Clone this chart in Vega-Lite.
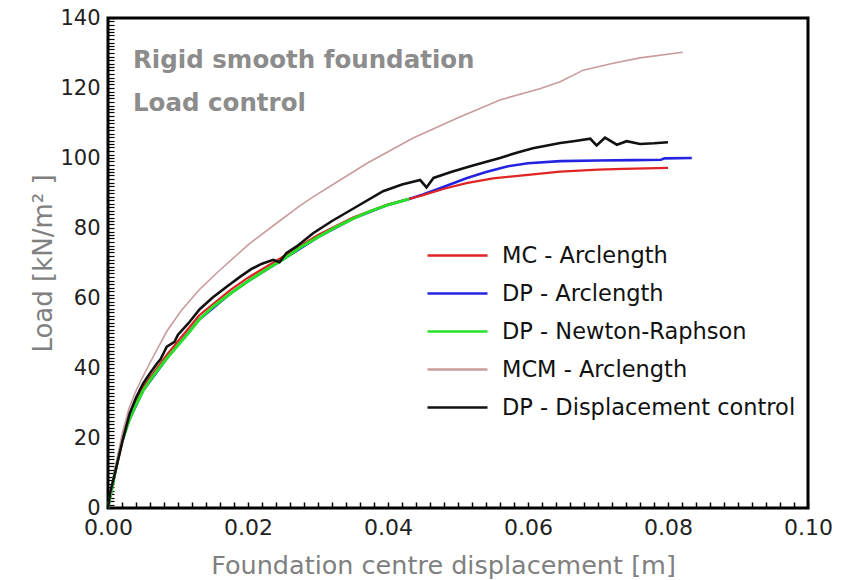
{
  "$schema": "https://vega.github.io/schema/vega-lite/v6.json",
  "width": 700,
  "height": 490,
  "autosize": "none",
  "padding": {"left": 108, "top": 18, "right": 42, "bottom": 72},
  "background": "white",
  "config": {
    "view": {"stroke": "black", "strokeWidth": 3},
    "font": "DejaVu Sans"
  },
  "title": {
    "text": "Rigid smooth foundation",
    "subtitle": "Load control",
    "anchor": "start",
    "frame": "group",
    "offset": -109,
    "dx": 25,
    "font": "DejaVu Sans",
    "fontSize": 24.5,
    "fontWeight": "bold",
    "color": "#8c8c8c",
    "subtitleFont": "DejaVu Sans",
    "subtitleFontSize": 24.5,
    "subtitleFontWeight": "bold",
    "subtitleColor": "#8c8c8c",
    "subtitlePadding": 18
  },
  "datasets": {
    "curves": [
      {"s": "DP - Newton-Raphson", "x": 0, "y": 0},
      {"s": "DP - Newton-Raphson", "x": 0.0005, "y": 5},
      {"s": "DP - Newton-Raphson", "x": 0.001, "y": 10},
      {"s": "DP - Newton-Raphson", "x": 0.0015, "y": 15},
      {"s": "DP - Newton-Raphson", "x": 0.002, "y": 19},
      {"s": "DP - Newton-Raphson", "x": 0.003, "y": 25},
      {"s": "DP - Newton-Raphson", "x": 0.004, "y": 29.5},
      {"s": "DP - Newton-Raphson", "x": 0.005, "y": 33.5},
      {"s": "DP - Newton-Raphson", "x": 0.006, "y": 36.5},
      {"s": "DP - Newton-Raphson", "x": 0.007, "y": 39.2},
      {"s": "DP - Newton-Raphson", "x": 0.0085, "y": 43},
      {"s": "DP - Newton-Raphson", "x": 0.01, "y": 46.5},
      {"s": "DP - Newton-Raphson", "x": 0.0115, "y": 50},
      {"s": "DP - Newton-Raphson", "x": 0.013, "y": 53.8},
      {"s": "DP - Newton-Raphson", "x": 0.015, "y": 57.5},
      {"s": "DP - Newton-Raphson", "x": 0.0175, "y": 61.3},
      {"s": "DP - Newton-Raphson", "x": 0.02, "y": 64.8},
      {"s": "DP - Newton-Raphson", "x": 0.0225, "y": 68},
      {"s": "DP - Newton-Raphson", "x": 0.025, "y": 71},
      {"s": "DP - Newton-Raphson", "x": 0.0275, "y": 74.5},
      {"s": "DP - Newton-Raphson", "x": 0.03, "y": 77.4},
      {"s": "DP - Newton-Raphson", "x": 0.0325, "y": 80.2},
      {"s": "DP - Newton-Raphson", "x": 0.035, "y": 82.7},
      {"s": "DP - Newton-Raphson", "x": 0.0375, "y": 84.8},
      {"s": "DP - Newton-Raphson", "x": 0.04, "y": 86.6},
      {"s": "DP - Newton-Raphson", "x": 0.043, "y": 88.3},

      {"s": "DP - Arclength", "x": 0, "y": 0},
      {"s": "DP - Arclength", "x": 0.001, "y": 10},
      {"s": "DP - Arclength", "x": 0.002, "y": 19},
      {"s": "DP - Arclength", "x": 0.003, "y": 25},
      {"s": "DP - Arclength", "x": 0.005, "y": 33.5},
      {"s": "DP - Arclength", "x": 0.0085, "y": 43},
      {"s": "DP - Arclength", "x": 0.013, "y": 53.8},
      {"s": "DP - Arclength", "x": 0.0175, "y": 61.3},
      {"s": "DP - Arclength", "x": 0.02, "y": 64.8},
      {"s": "DP - Arclength", "x": 0.025, "y": 71},
      {"s": "DP - Arclength", "x": 0.03, "y": 77.4},
      {"s": "DP - Arclength", "x": 0.035, "y": 82.7},
      {"s": "DP - Arclength", "x": 0.04, "y": 86.6},
      {"s": "DP - Arclength", "x": 0.043, "y": 88.3},
      {"s": "DP - Arclength", "x": 0.045, "y": 89.6},
      {"s": "DP - Arclength", "x": 0.048, "y": 91.8},
      {"s": "DP - Arclength", "x": 0.0512, "y": 94.2},
      {"s": "DP - Arclength", "x": 0.054, "y": 96},
      {"s": "DP - Arclength", "x": 0.057, "y": 97.6},
      {"s": "DP - Arclength", "x": 0.06, "y": 98.5},
      {"s": "DP - Arclength", "x": 0.0646, "y": 99.1},
      {"s": "DP - Arclength", "x": 0.07, "y": 99.3},
      {"s": "DP - Arclength", "x": 0.075, "y": 99.4},
      {"s": "DP - Arclength", "x": 0.079, "y": 99.5},
      {"s": "DP - Arclength", "x": 0.0795, "y": 99.9},
      {"s": "DP - Arclength", "x": 0.0834, "y": 100},

      {"s": "MC - Arclength", "x": 0, "y": 0},
      {"s": "MC - Arclength", "x": 0.001, "y": 10.5},
      {"s": "MC - Arclength", "x": 0.002, "y": 19.5},
      {"s": "MC - Arclength", "x": 0.003, "y": 26},
      {"s": "MC - Arclength", "x": 0.005, "y": 34.5},
      {"s": "MC - Arclength", "x": 0.0085, "y": 44},
      {"s": "MC - Arclength", "x": 0.013, "y": 55},
      {"s": "MC - Arclength", "x": 0.0175, "y": 62.3},
      {"s": "MC - Arclength", "x": 0.02, "y": 65.8},
      {"s": "MC - Arclength", "x": 0.025, "y": 71.8},
      {"s": "MC - Arclength", "x": 0.03, "y": 78},
      {"s": "MC - Arclength", "x": 0.035, "y": 83},
      {"s": "MC - Arclength", "x": 0.04, "y": 86.8},
      {"s": "MC - Arclength", "x": 0.043, "y": 88.3},
      {"s": "MC - Arclength", "x": 0.045, "y": 89.4},
      {"s": "MC - Arclength", "x": 0.048, "y": 91.2},
      {"s": "MC - Arclength", "x": 0.0512, "y": 92.8},
      {"s": "MC - Arclength", "x": 0.055, "y": 94.2},
      {"s": "MC - Arclength", "x": 0.06, "y": 95.2},
      {"s": "MC - Arclength", "x": 0.0646, "y": 96.1},
      {"s": "MC - Arclength", "x": 0.07, "y": 96.7},
      {"s": "MC - Arclength", "x": 0.0736, "y": 96.9},
      {"s": "MC - Arclength", "x": 0.08, "y": 97.2},

      {"s": "MCM - Arclength", "x": 0, "y": 0},
      {"s": "MCM - Arclength", "x": 0.001, "y": 11},
      {"s": "MCM - Arclength", "x": 0.002, "y": 21},
      {"s": "MCM - Arclength", "x": 0.003, "y": 28.5},
      {"s": "MCM - Arclength", "x": 0.004, "y": 33.5},
      {"s": "MCM - Arclength", "x": 0.0046, "y": 36},
      {"s": "MCM - Arclength", "x": 0.006, "y": 41.5},
      {"s": "MCM - Arclength", "x": 0.0084, "y": 50.5},
      {"s": "MCM - Arclength", "x": 0.0105, "y": 56.5},
      {"s": "MCM - Arclength", "x": 0.0131, "y": 62.5},
      {"s": "MCM - Arclength", "x": 0.016, "y": 68},
      {"s": "MCM - Arclength", "x": 0.0203, "y": 75.7},
      {"s": "MCM - Arclength", "x": 0.0245, "y": 82},
      {"s": "MCM - Arclength", "x": 0.0274, "y": 86.3},
      {"s": "MCM - Arclength", "x": 0.0293, "y": 88.9},
      {"s": "MCM - Arclength", "x": 0.033, "y": 93.5},
      {"s": "MCM - Arclength", "x": 0.037, "y": 98.5},
      {"s": "MCM - Arclength", "x": 0.0436, "y": 105.7},
      {"s": "MCM - Arclength", "x": 0.05, "y": 111.5},
      {"s": "MCM - Arclength", "x": 0.056, "y": 116.6},
      {"s": "MCM - Arclength", "x": 0.0617, "y": 119.8},
      {"s": "MCM - Arclength", "x": 0.0646, "y": 121.8},
      {"s": "MCM - Arclength", "x": 0.0679, "y": 125.1},
      {"s": "MCM - Arclength", "x": 0.072, "y": 127},
      {"s": "MCM - Arclength", "x": 0.076, "y": 128.6},
      {"s": "MCM - Arclength", "x": 0.0821, "y": 130.2},

      {"s": "DP - Displacement control", "x": 0, "y": 0},
      {"s": "DP - Displacement control", "x": 0.0003, "y": 4.3},
      {"s": "DP - Displacement control", "x": 0.001, "y": 10},
      {"s": "DP - Displacement control", "x": 0.0021, "y": 19.4},
      {"s": "DP - Displacement control", "x": 0.0031, "y": 27},
      {"s": "DP - Displacement control", "x": 0.004, "y": 31.5},
      {"s": "DP - Displacement control", "x": 0.005, "y": 35.5},
      {"s": "DP - Displacement control", "x": 0.006, "y": 38.5},
      {"s": "DP - Displacement control", "x": 0.007, "y": 41.3},
      {"s": "DP - Displacement control", "x": 0.0075, "y": 42.5},
      {"s": "DP - Displacement control", "x": 0.008, "y": 44.5},
      {"s": "DP - Displacement control", "x": 0.0084, "y": 46.1},
      {"s": "DP - Displacement control", "x": 0.0095, "y": 47.5},
      {"s": "DP - Displacement control", "x": 0.01, "y": 49.5},
      {"s": "DP - Displacement control", "x": 0.0115, "y": 52.8},
      {"s": "DP - Displacement control", "x": 0.0131, "y": 56.8},
      {"s": "DP - Displacement control", "x": 0.015, "y": 60.2},
      {"s": "DP - Displacement control", "x": 0.017, "y": 63.3},
      {"s": "DP - Displacement control", "x": 0.0189, "y": 66.1},
      {"s": "DP - Displacement control", "x": 0.0205, "y": 68.3},
      {"s": "DP - Displacement control", "x": 0.022, "y": 69.8},
      {"s": "DP - Displacement control", "x": 0.0236, "y": 70.9},
      {"s": "DP - Displacement control", "x": 0.0245, "y": 70.2},
      {"s": "DP - Displacement control", "x": 0.0255, "y": 72.9},
      {"s": "DP - Displacement control", "x": 0.027, "y": 74.8},
      {"s": "DP - Displacement control", "x": 0.0293, "y": 78.5},
      {"s": "DP - Displacement control", "x": 0.032, "y": 82},
      {"s": "DP - Displacement control", "x": 0.035, "y": 85.5},
      {"s": "DP - Displacement control", "x": 0.0393, "y": 90.5},
      {"s": "DP - Displacement control", "x": 0.042, "y": 92.4},
      {"s": "DP - Displacement control", "x": 0.0446, "y": 93.7},
      {"s": "DP - Displacement control", "x": 0.0455, "y": 91.6},
      {"s": "DP - Displacement control", "x": 0.0465, "y": 94.3},
      {"s": "DP - Displacement control", "x": 0.049, "y": 96},
      {"s": "DP - Displacement control", "x": 0.052, "y": 97.8},
      {"s": "DP - Displacement control", "x": 0.056, "y": 100},
      {"s": "DP - Displacement control", "x": 0.0585, "y": 101.6},
      {"s": "DP - Displacement control", "x": 0.0607, "y": 102.8},
      {"s": "DP - Displacement control", "x": 0.0646, "y": 104.3},
      {"s": "DP - Displacement control", "x": 0.0665, "y": 104.8},
      {"s": "DP - Displacement control", "x": 0.0689, "y": 105.5},
      {"s": "DP - Displacement control", "x": 0.0698, "y": 103.6},
      {"s": "DP - Displacement control", "x": 0.071, "y": 105.8},
      {"s": "DP - Displacement control", "x": 0.0727, "y": 103.8},
      {"s": "DP - Displacement control", "x": 0.0741, "y": 104.8},
      {"s": "DP - Displacement control", "x": 0.076, "y": 104},
      {"s": "DP - Displacement control", "x": 0.078, "y": 104.2},
      {"s": "DP - Displacement control", "x": 0.08, "y": 104.5}
    ]
  },
  "data": {"name": "curves"},
  "encoding": {
    "x": {
      "field": "x", "type": "quantitative",
      "scale": {"domain": [0, 0.1], "nice": false, "zero": false},
      "axis": {
        "orient": "bottom",
        "offset": -6,
        "values": [0,0.002,0.004,0.006,0.008,0.01,0.012,0.014,0.016,0.018,0.02,0.022,0.024,0.026,0.028,0.03,0.032,0.034,0.036,0.038,0.04,0.042,0.044,0.046,0.048,0.05,0.052,0.054,0.056,0.058,0.06,0.062,0.064,0.066,0.068,0.07,0.072,0.074,0.076,0.078,0.08,0.082,0.084,0.086,0.088,0.09,0.092,0.094,0.096,0.098,0.1],
        "labelExpr": "abs(datum.value*50 - round(datum.value*50)) < 0.001 ? format(datum.value, '.2f') : ''",
        "ticks": true, "tickSize": 6, "tickColor": "#000000", "tickWidth": 1.5, "tickOpacity": 1,
        "domain": false,
        "grid": false,
        "labelFont": "DejaVu Sans", "labelFontSize": 22, "labelColor": "#222",
        "labelPadding": 9, "labelFlush": false, "labelOverlap": false,
        "title": "Foundation centre displacement [m]",
        "titleFont": "DejaVu Sans", "titleFontSize": 25.5, "titleFontWeight": "normal", "titleColor": "#808080",
        "titlePadding": 15,
        "titleX": 335
      }
    },
    "y": {
      "field": "y", "type": "quantitative",
      "scale": {"domain": [0, 140], "nice": false},
      "axis": {
        "orient": "left",
        "offset": -6,
        "values": [0,1,2,3,4,5,6,7,8,9,10,11,12,13,14,15,16,17,18,19,20,21,22,23,24,25,26,27,28,29,30,31,32,33,34,35,36,37,38,39,40,41,42,43,44,45,46,47,48,49,50,51,52,53,54,55,56,57,58,59,60,61,62,63,64,65,66,67,68,69,70,71,72,73,74,75,76,77,78,79,80,81,82,83,84,85,86,87,88,89,90,91,92,93,94,95,96,97,98,99,100,101,102,103,104,105,106,107,108,109,110,111,112,113,114,115,116,117,118,119,120,121,122,123,124,125,126,127,128,129,130,131,132,133,134,135,136,137,138,139,140],
        "labelExpr": "datum.value % 20 == 0 ? datum.value : ''",
        "ticks": true, "tickSize": 6, "tickColor": "#000000", "tickWidth": 1.2, "tickOpacity": 1,
        "domain": false,
        "grid": false,
        "labelFont": "DejaVu Sans", "labelFontSize": 21, "labelColor": "#222",
        "labelPadding": 8, "labelFlush": false, "labelOverlap": false,
        "title": "Load [kN/m² ]",
        "titleFont": "DejaVu Sans", "titleFontSize": 26, "titleFontWeight": "normal", "titleColor": "#808080",
        "titlePadding": 3
      }
    },
    "color": {
      "field": "s", "type": "nominal",
      "scale": {
        "domain": ["MC - Arclength", "DP - Arclength", "DP - Newton-Raphson", "MCM - Arclength", "DP - Displacement control"],
        "range": ["#e02424", "#2424e0", "#28e028", "#c89c9c", "#111111"]
      },
      "legend": {
        "orient": "none",
        "legendX": 338,
        "legendY": 226,
        "title": null,
        "symbolType": "M-3,0H3",
        "symbolSize": 400,
        "symbolStrokeWidth": 2.5,
        "labelFont": "DejaVu Sans",
        "labelFontSize": 22.5,
        "labelColor": "#111",
        "labelOffset": 33,
        "labelLimit": 0,
        "rowPadding": 15
      }
    }
  },
  "layer": [
    {"transform": [{"filter": "datum.s == 'DP - Arclength'"}], "mark": {"type": "line", "strokeWidth": 2.6}},
    {"transform": [{"filter": "datum.s == 'MC - Arclength'"}], "mark": {"type": "line", "strokeWidth": 2.2}},
    {"transform": [{"filter": "datum.s == 'DP - Newton-Raphson'"}], "mark": {"type": "line", "strokeWidth": 3}},
    {"transform": [{"filter": "datum.s == 'MCM - Arclength'"}], "mark": {"type": "line", "strokeWidth": 1.6}},
    {"transform": [{"filter": "datum.s == 'DP - Displacement control'"}], "mark": {"type": "line", "strokeWidth": 2.6}}
  ]
}
